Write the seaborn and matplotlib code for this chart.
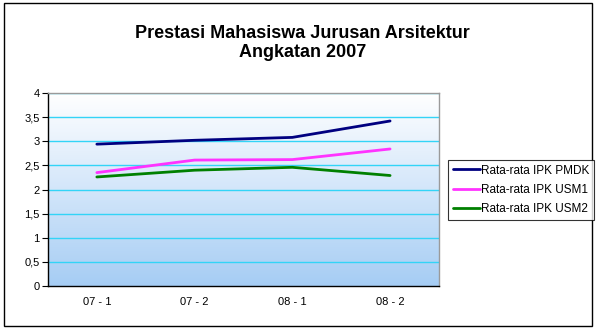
import numpy as np
import pandas as pd
import matplotlib
matplotlib.use("Agg")
import matplotlib.pyplot as plt
from matplotlib.patches import Rectangle
import seaborn as sns

semesters = ["07 - 1", "07 - 2", "08 - 1", "08 - 2"]
ipk_pmdk = [2.94, 3.02, 3.08, 3.42]
ipk_usm1 = [2.35, 2.61, 2.62, 2.84]
ipk_usm2 = [2.26, 2.40, 2.46, 2.29]
series_names = ["Rata-rata IPK PMDK", "Rata-rata IPK USM1", "Rata-rata IPK USM2"]
y_ticks = [0, 0.5, 1, 1.5, 2, 2.5, 3, 3.5, 4]
y_tick_labels = ["0", "0,5", "1", "1,5", "2", "2,5", "3", "3,5", "4"]

df = pd.DataFrame({
    "Semester": semesters * 3,
    "x": list(range(len(semesters))) * 3,
    "IPK": ipk_pmdk + ipk_usm1 + ipk_usm2,
    "Jalur": [n for n in series_names for _ in semesters],
})

sns.set_style("white")
plt.rcParams["font.family"] = ["Liberation Sans", "DejaVu Sans"]
plt.rcParams["text.color"] = "black"
plt.rcParams["xtick.color"] = "black"
plt.rcParams["ytick.color"] = "black"

fig = plt.figure(figsize=(5.96, 3.29), dpi=100)
fig.patches.append(Rectangle((0.006, 0.009), 0.988, 0.982, transform=fig.transFigure,
                             fill=False, edgecolor="black", linewidth=1.0))

ax = fig.add_axes([0.0805, 0.1307, 0.656, 0.5866])

# vertical gradient background
grad = np.linspace(0, 1, 256).reshape(-1, 1)
cmap = matplotlib.colors.LinearSegmentedColormap.from_list(
    "bg", [(0, "#a6cdf4"), (0.6, "#dcebfb"), (1, "#ffffff")])
ax.imshow(grad, aspect="auto", cmap=cmap, origin="lower",
          extent=[0, 1, 0, 1], transform=ax.transAxes, zorder=0)

for y in y_ticks[1:]:
    ax.axhline(y, color="#33d4f7", linewidth=1.0, zorder=1)

palette = {series_names[0]: "#000080", series_names[1]: "#ff33ff", series_names[2]: "#008000"}
sns.lineplot(data=df, x="x", y="IPK", hue="Jalur", palette=palette, linewidth=2.0,
             ax=ax, zorder=3, legend=False)

ax.set_xlim(-0.5, 3.5)
ax.set_ylim(0, 4)
ax.set_xticks([0, 1, 2, 3])
ax.set_xticklabels(semesters, fontsize=8)
ax.set_xticks([-0.5, 0.5, 1.5, 2.5, 3.5], minor=True)
ax.tick_params(axis="x", which="major", length=0, pad=8)
ax.tick_params(axis="x", which="minor", length=4, direction="out", color="black")
ax.set_yticks(y_ticks)
ax.set_yticklabels(y_tick_labels, fontsize=8)
ax.tick_params(axis="y", length=4, direction="out", color="black", pad=2, left=True)
ax.set_xlabel("")
ax.set_ylabel("")
for side in ["top", "right"]:
    ax.spines[side].set_color("#9a9a9a")
    ax.spines[side].set_linewidth(1.0)
for side in ["left", "bottom"]:
    ax.spines[side].set_color("black")
    ax.spines[side].set_linewidth(1.0)

fig.text(0.507, 0.869, "Prestasi Mahasiswa Jurusan Arsitektur\nAngkatan 2007",
         ha="center", va="center", fontsize=13, fontweight="bold", linespacing=1.15,
         color="black")

handles = [plt.Line2D([0], [0], color=palette[n], linewidth=2.0) for n in series_names]
leg = fig.legend(handles, series_names, loc="upper left", bbox_to_anchor=(0.752, 0.514),
                 fontsize=8.5, frameon=True, fancybox=False, handlelength=2.3,
                 handletextpad=0.1, borderpad=0.4, labelspacing=0.6, borderaxespad=0)
leg.get_frame().set_edgecolor("black")
leg.get_frame().set_linewidth(0.8)
for t in leg.get_texts():
    t.set_color("black")

fig.savefig("out.png", dpi=100)
